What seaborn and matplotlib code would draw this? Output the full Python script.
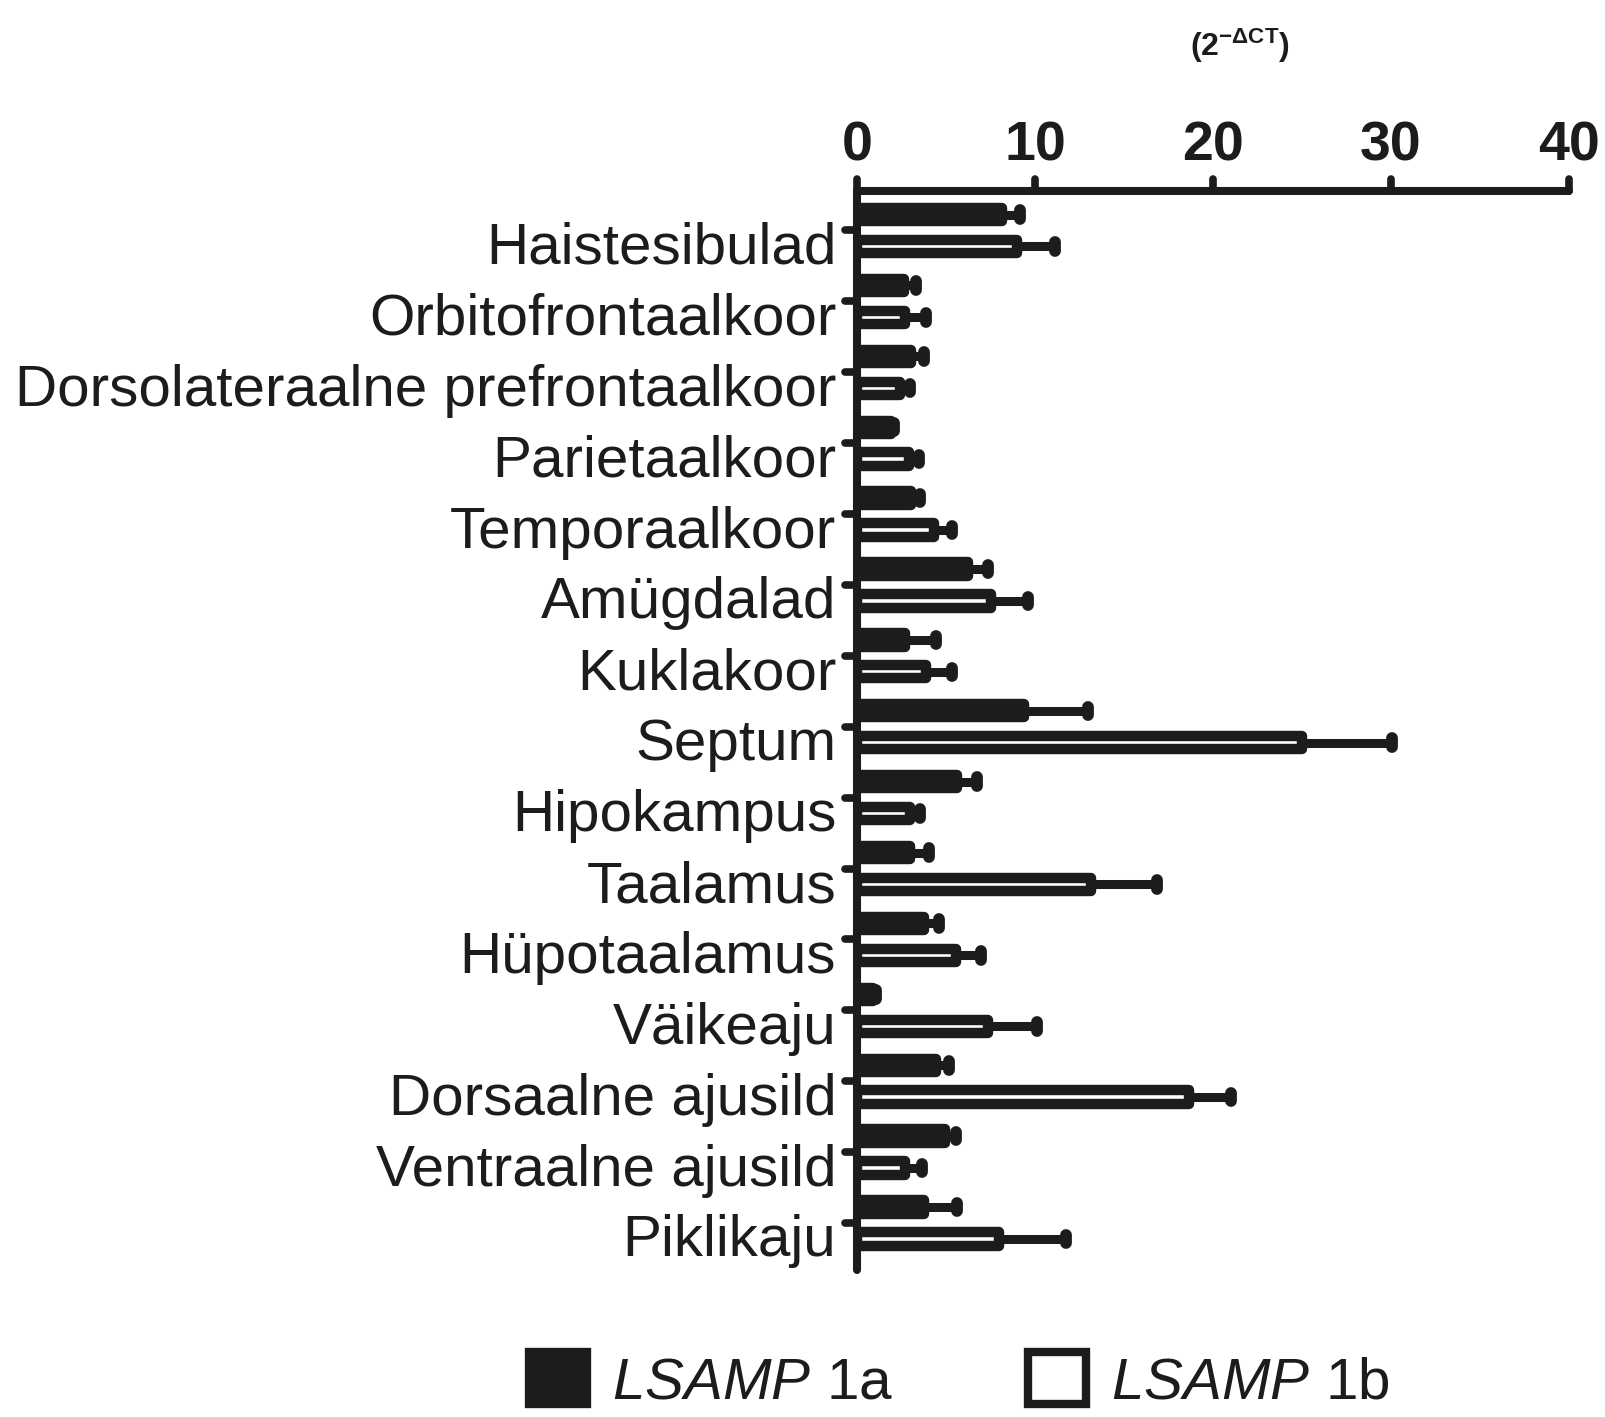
import numpy as np
import pandas as pd
import seaborn as sns
import matplotlib.pyplot as plt
from matplotlib.patches import Patch
from matplotlib.markers import MarkerStyle
from matplotlib import transforms

# LSAMP transcript expression across brain regions (2^-dCT), mean and SEM
regions = [
    "Haistesibulad",
    "Orbitofrontaalkoor",
    "Dorsolateraalne prefrontaalkoor",
    "Parietaalkoor",
    "Temporaalkoor",
    "Amügdalad",
    "Kuklakoor",
    "Septum",
    "Hipokampus",
    "Taalamus",
    "Hüpotaalamus",
    "Väikeaju",
    "Dorsaalne ajusild",
    "Ventraalne ajusild",
    "Piklikaju",
]
isoforms = ["1a", "1b"]
expr_1a = [8.15, 2.64, 3.02, 1.93, 3.02, 6.24, 2.70, 9.37, 5.59, 2.96, 3.76, 0.92, 4.42, 4.93, 3.76]
sem_1a = [0.98, 0.66, 0.74, 0.15, 0.53, 1.14, 1.72, 3.61, 1.13, 1.10, 0.87, 0.15, 0.75, 0.61, 1.88]
expr_1b = [8.99, 2.68, 2.42, 2.92, 4.33, 7.51, 3.86, 25.00, 2.96, 13.17, 5.55, 7.36, 18.65, 2.70, 7.98]
sem_1b = [2.11, 1.22, 0.58, 0.56, 1.03, 2.12, 1.50, 5.05, 0.60, 3.68, 1.40, 2.74, 2.35, 0.97, 3.78]
x_ticks = [0, 10, 20, 30, 40]

sns.set_theme(style="white")
plt.rcParams["font.family"] = ["Liberation Sans", "DejaVu Sans"]
plt.rcParams["mathtext.fontset"] = "custom"
plt.rcParams["mathtext.rm"] = "Liberation Sans"
plt.rcParams["mathtext.it"] = "Liberation Sans:italic"
plt.rcParams["mathtext.bf"] = "Liberation Sans:bold"

INK = "#1c1c1c"

df = pd.DataFrame({
    "region": regions * 2,
    "isoform": [isoforms[0]] * len(regions) + [isoforms[1]] * len(regions),
    "value": expr_1a + expr_1b,
})

W, H = 1606, 1417
fig = plt.figure(figsize=(W / 100, H / 100), dpi=100)
ax = fig.add_axes([857 / W, 1 - 1270 / H, 712 / W, (1270 - 190.5) / H])

sns.barplot(
    data=df, y="region", x="value", hue="isoform",
    order=regions, hue_order=isoforms,
    palette={"1a": INK, "1b": "white"}, saturation=1,
    orient="h", width=0.9, gap=0.58, errorbar=None,
    edgecolor=INK, linewidth=7.5, legend=False, ax=ax,
)
for p in ax.patches:
    p.set_joinstyle("round")

# one-sided error bars with rounded caps
for cont, vals, errs in zip(ax.containers, [expr_1a, expr_1b], [sem_1a, sem_1b]):
    patches = sorted(cont.patches, key=lambda p: p.get_y())
    ys = np.array([p.get_y() + p.get_height() / 2 for p in patches])
    v = np.array(vals)
    e = np.array(errs)
    ax.hlines(ys, v, v + e, color=INK, lw=6.5, capstyle="butt", zorder=3)
    ax.vlines(v + e, ys - 0.06, ys + 0.06, color=INK, lw=8.5, capstyle="round", zorder=3)

ax.set_xlim(0, 40)
ax.set_ylim(len(regions) - 1 + 0.663, -0.564)
ax.set_xticks(x_ticks)
ax.xaxis.tick_top()
ax.set_xlabel("")
ax.set_ylabel("")
for s in ["right", "bottom"]:
    ax.spines[s].set_visible(False)
for s in ["top", "left"]:
    ax.spines[s].set_linewidth(5.8)
    ax.spines[s].set_color(INK)
    ax.spines[s].set_capstyle("round")

ax.tick_params(axis="x", top=True, bottom=False, direction="out", length=9,
               width=5.5, color=INK, pad=4, labelsize=40, labelcolor=INK)
ax.tick_params(axis="y", left=True, direction="out", length=9,
               width=5.5, color=INK, pad=6, labelsize=42, labelcolor=INK)
for lab in ax.get_xticklabels():
    lab.set_fontweight("bold")
    lab.set_family(["Liberation Sans Narrow", "Liberation Sans"])

for tick in ax.xaxis.get_major_ticks() + ax.yaxis.get_major_ticks():
    for ln in (tick.tick1line, tick.tick2line):
        ln.set_marker(MarkerStyle(ln.get_marker(), capstyle="round"))

offset = transforms.ScaledTranslation(0, -9 / 72, fig.dpi_scale_trans)
for lab in ax.get_yticklabels():
    lab.set_transform(lab.get_transform() + offset)

fig.text(1240 / W, 1 - 46 / H, r"(2$^{\mathbf{-\Delta CT}}$)",
         ha="center", va="center", fontsize=23, fontweight="bold", color=INK)

handles = [
    Patch(facecolor=INK, edgecolor=INK, linewidth=6),
    Patch(facecolor="white", edgecolor=INK, linewidth=6),
]
labels = [r"$\mathit{LSAMP}$ 1a", r"$\mathit{LSAMP}$ 1b"]
fig.legend(handles, labels, loc="upper left",
           bbox_to_anchor=(529 / W, 1 - 1352 / H), ncol=2, frameon=False,
           fontsize=42, handlelength=1.0, handleheight=1.0,
           handletextpad=0.43, columnspacing=2.3, borderpad=0,
           borderaxespad=0, labelcolor=INK)

fig.savefig("out.png", dpi=100)
